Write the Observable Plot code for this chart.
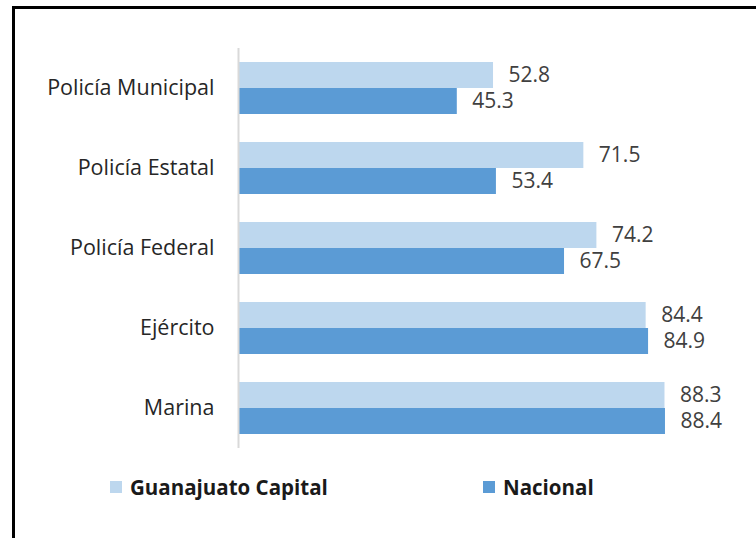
<!DOCTYPE html>
<html>
<head>
<meta charset="utf-8">
<script src="https://cdn.jsdelivr.net/npm/d3@7"></script>
<script src="https://cdn.jsdelivr.net/npm/@observablehq/plot@0.6"></script>
<style>
  html, body { margin: 0; padding: 0; background: #fff; }
  body { width: 756px; height: 538px; position: relative; overflow: hidden; font-family: "Open Sans", sans-serif; }
  #frame { position: absolute; left: 12px; top: 6px; width: 800px; height: 600px; border-left: 3px solid #000; border-top: 3px solid #000; box-sizing: border-box; }
  #chart { position: absolute; left: 0; top: 0; }
  .leg { position: absolute; top: 475px; display: flex; align-items: center; font-weight: bold; font-size: 20.5px; color: #1a1a1a; height: 24px; }
  .sw { width: 12px; height: 12px; margin-right: 8px; }
</style>
</head>
<body>
<div id="frame"></div>
<div id="chart"></div>
<div class="leg" style="left:110px"><div class="sw" style="background:#BDD7EE"></div>Guanajuato Capital</div>
<div class="leg" style="left:483px"><div class="sw" style="background:#5B9BD5"></div>Nacional</div>
<script>
const categories = ["Policía Municipal", "Policía Estatal", "Policía Federal", "Ejército", "Marina"];
const series = ["Guanajuato Capital", "Nacional"];
const guanajuato = [52.8, 71.5, 74.2, 84.4, 88.3];
const nacional = [45.3, 53.4, 67.5, 84.9, 88.4];
const colors = ["#BDD7EE", "#5B9BD5"];

const data = [];
categories.forEach((c, i) => {
  data.push({cat: c, serie: series[0], value: guanajuato[i]});
  data.push({cat: c, serie: series[1], value: nacional[i]});
});

const chart = Plot.plot({
  width: 756,
  height: 460,
  marginLeft: 238,
  marginRight: 35,
  marginTop: 47,
  marginBottom: 12,
  style: {fontFamily: "Open Sans, sans-serif", background: "transparent"},
  x: {domain: [0, 100], axis: null},
  fy: {domain: categories, padding: 0, label: null},
  y: {domain: series, paddingInner: 0, paddingOuter: 0.49, axis: null},
  color: {domain: series, range: colors},
  marks: [
    Plot.barX(data, {fy: "cat", y: "serie", x: "value", fill: "serie", inset: 0}),
    Plot.ruleX([0], {stroke: "#d9d9d9", strokeWidth: 2}),
    Plot.text(data, {fy: "cat", y: "serie", x: "value", text: d => d.value.toFixed(1), dx: 15, textAnchor: "start", fill: "#404040", fontSize: 21}),
    Plot.axisFy({anchor: "left", tickSize: 0, tickPadding: 24, fontSize: 21.5, color: "#262626", label: null})
  ]
});
document.getElementById("chart").appendChild(chart);
</script>
</body>
</html>
